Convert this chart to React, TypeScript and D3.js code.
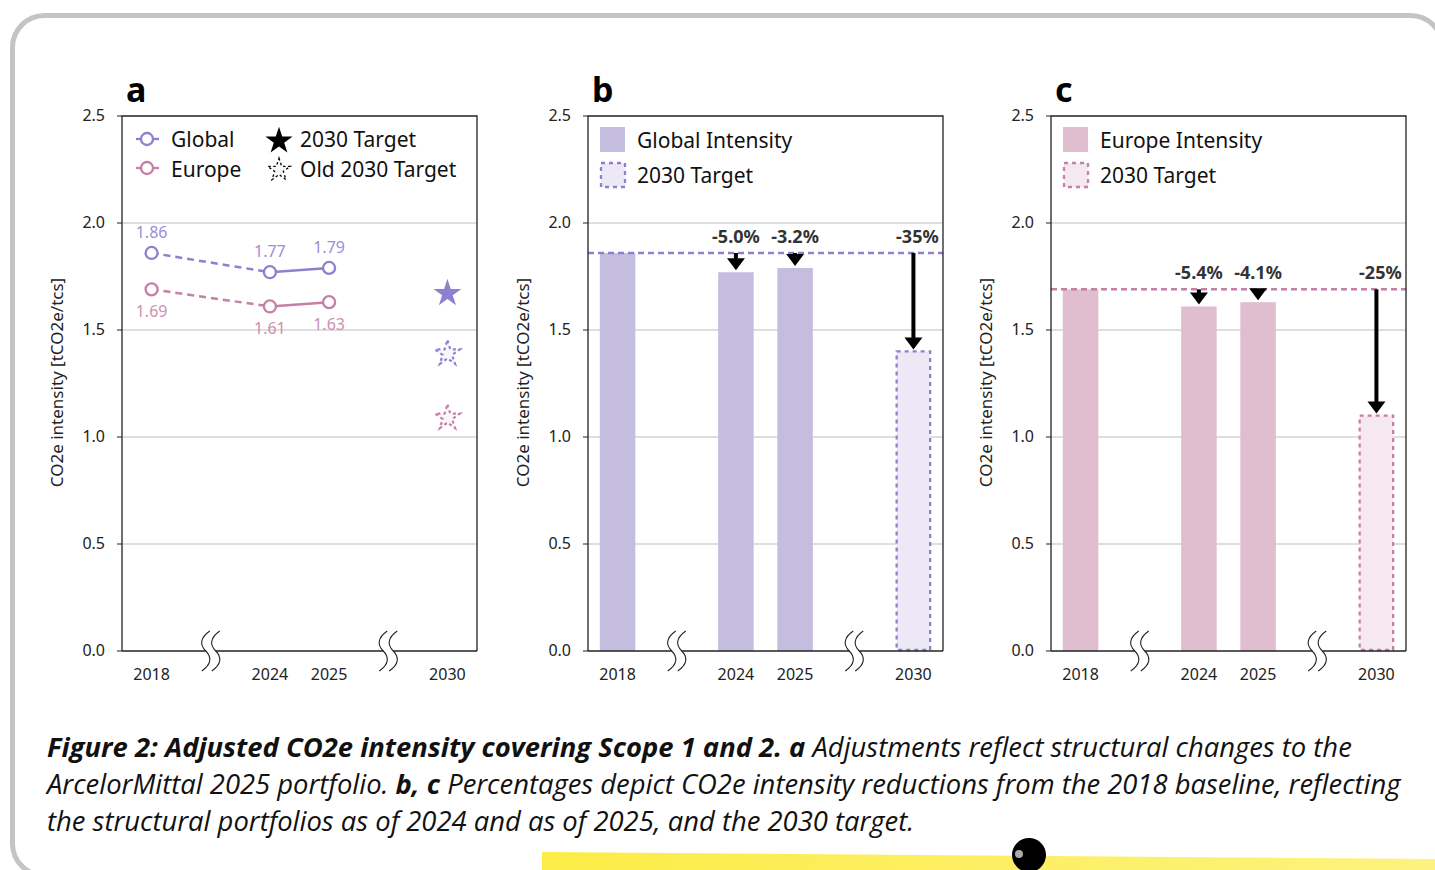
import * as d3 from 'd3';

// data
const slots = ['2018', 'gap1', '2024', '2025', 'gap2', '2030'];
const years = ['2018', '2024', '2025'];
const yTicks = [0, 0.5, 1.0, 1.5, 2.0, 2.5];
const globalValues = [1.86, 1.77, 1.79];
const europeValues = [1.69, 1.61, 1.63];
const globalTarget = 1.68;
const globalOldTarget = 1.40;
const europeOldTarget = 1.10;
const globalBarTarget = 1.40;
const europeBarTarget = 1.10;
const globalChanges = ['-5.0%', '-3.2%', '-35%'];
const europeChanges = ['-5.4%', '-4.1%', '-25%'];

const FONT = "'Noto Sans', sans-serif";
const PURPLE = '#8f7fcf';
const PURPLE_TXT = '#9a8fd6';
const PINK = '#c67fa6';
const PINK_TXT = '#cf8fb0';
const PURPLE_BAR = '#c5bde0';
const PINK_BAR = '#e0bdcf';

const top = 116;
const bottom = 651;
const pw = 355;
const y = d3.scaleLinear().domain([0, 2.5]).range([bottom, top]);

const mkX = (x0: number) =>
  d3.scaleBand<string>().domain(slots).range([x0, x0 + pw]).padding(0);

const starPath = (size: number) => d3.symbol().type(d3.symbolStar).size(size)() as string;

function BreakMark({ cx }: { cx: number }) {
  const curve = (c: number) =>
    `M${c + 4},631 C${c - 6},638 ${c - 6},645 ${c},651 C${c + 6},657 ${c + 6},664 ${c - 4},671`;
  return (
    <g>
      <rect x={cx - 5} y={646} width={10} height={10} fill="#fff" />
      <path d={curve(cx - 5)} fill="none" stroke="#222" strokeWidth={1.1} />
      <path d={curve(cx + 5)} fill="none" stroke="#222" strokeWidth={1.1} />
    </g>
  );
}

function Frame({ x0, letter }: { x0: number; letter: string }) {
  const x = mkX(x0);
  return (
    <g fontFamily={FONT}>
      <text x={x0 + 4} y={102} fontSize={34} fontWeight={700} fill="#000">{letter}</text>
      {yTicks.filter(t => t > 0 && t < 2.5).map(t => (
        <line key={t} x1={x0} x2={x0 + pw} y1={y(t)} y2={y(t)} stroke="#bdbdbd" strokeWidth={1} />
      ))}
      {yTicks.map(t => (
        <g key={'t' + t}>
          <line x1={x0 - 5} x2={x0} y1={y(t)} y2={y(t)} stroke="#222" />
          <text x={x0 - 17} y={y(t) + 5} textAnchor="end" fontSize={16} fill="#222">{t.toFixed(1)}</text>
        </g>
      ))}
      <text transform={`translate(${x0 - 59},${(top + bottom) / 2 - 1}) rotate(-90)`} textAnchor="middle" fontSize={17} fill="#222">
        CO2e intensity [tCO2e/tcs]
      </text>
      {['2018', '2024', '2025', '2030'].map(s => (
        <text key={s} x={x(s)! + x.bandwidth() / 2} y={680} textAnchor="middle" fontSize={16} fill="#222">{s}</text>
      ))}
    </g>
  );
}

function Border({ x0 }: { x0: number }) {
  const x = mkX(x0);
  return (
    <g>
      <path d={`M${x0},${bottom} V${top} H${x0 + pw} V${bottom}`} fill="none" stroke="#222" strokeWidth={1.3} />
      <line x1={x0} x2={x0 + pw} y1={bottom} y2={bottom} stroke="#222" strokeWidth={1.3} />
      <BreakMark cx={x('gap1')! + x.bandwidth() / 2} />
      <BreakMark cx={x('gap2')! + x.bandwidth() / 2} />
    </g>
  );
}

function PanelA({ x0 }: { x0: number }) {
  const x = mkX(x0);
  const cx = (s: string) => x(s)! + x.bandwidth() / 2;
  const series = [
    { vals: globalValues, color: PURPLE, txt: PURPLE_TXT, above: true },
    { vals: europeValues, color: PINK, txt: PINK_TXT, above: false },
  ];
  return (
    <g fontFamily={FONT}>
      <Frame x0={x0} letter="a" />
      {series.map((s, si) => (
        <g key={si}>
          <line x1={cx(years[0])} y1={y(s.vals[0])} x2={cx(years[1])} y2={y(s.vals[1])}
            stroke={s.color} strokeWidth={2.5} strokeDasharray="7,5" />
          <line x1={cx(years[1])} y1={y(s.vals[1])} x2={cx(years[2])} y2={y(s.vals[2])}
            stroke={s.color} strokeWidth={2.5} />
          {s.vals.map((v, i) => (
            <g key={i}>
              <circle cx={cx(years[i])} cy={y(v)} r={6} fill="#fff" stroke={s.color} strokeWidth={2.3} />
              <text x={cx(years[i])} y={s.above ? y(v) - 15 : y(v) + 28} textAnchor="middle" fontSize={16} fill={s.txt}>
                {v.toFixed(2)}
              </text>
            </g>
          ))}
        </g>
      ))}
      <path d={starPath(240)} transform={`translate(${cx('2030')},${y(globalTarget) + 2})`} fill={PURPLE} />
      <path d={starPath(190)} transform={`translate(${cx('2030')},${y(globalOldTarget) + 2})`}
        fill="#f7f6fc" stroke={PURPLE} strokeWidth={2.2} strokeDasharray="3,3" />
      <path d={starPath(190)} transform={`translate(${cx('2030')},${y(europeOldTarget) + 2})`}
        fill="#fcf6f9" stroke={PINK} strokeWidth={2.2} strokeDasharray="3,3" />
      {/* legend */}
      <g fontSize={21} fill="#111">
        <line x1={x0 + 14} x2={x0 + 37} y1={139} y2={139} stroke={PURPLE} strokeWidth={2.3} />
        <circle cx={x0 + 25} cy={139} r={6} fill="#fff" stroke={PURPLE} strokeWidth={2.3} />
        <text x={x0 + 49} y={147}>Global</text>
        <line x1={x0 + 14} x2={x0 + 37} y1={168} y2={168} stroke={PINK} strokeWidth={2.3} />
        <circle cx={x0 + 25} cy={168} r={6} fill="#fff" stroke={PINK} strokeWidth={2.3} />
        <text x={x0 + 49} y={177}>Europe</text>
        <path d={starPath(230)} transform={`translate(${x0 + 157},${141})`} fill="#000" />
        <text x={x0 + 178} y={147}>2030 Target</text>
        <path d={starPath(160)} transform={`translate(${x0 + 157},${170})`} fill="#f6f6f6" stroke="#000" strokeWidth={1.3} strokeDasharray="2.5,2.5" />
        <text x={x0 + 178} y={177}>Old 2030 Target</text>
      </g>
      <Border x0={x0} />
    </g>
  );
}

function PanelBars({ x0, letter, vals, target, changes, bar, line, targetFill, legend }: {
  x0: number; letter: string; vals: number[]; target: number; changes: string[];
  bar: string; line: string; targetFill: string; legend: string;
}) {
  const x = mkX(x0);
  const bw = x.bandwidth() * 0.6;
  const cx = (s: string) => x(s)! + x.bandwidth() / 2;
  const base = vals[0];
  const arrowTargets = [vals[1], vals[2], target];
  const arrowSlots = ['2024', '2025', '2030'];
  return (
    <g fontFamily={FONT}>
      <Frame x0={x0} letter={letter} />
      {vals.map((v, i) => (
        <rect key={i} x={cx(years[i]) - bw / 2} y={y(v)} width={bw} height={y(0) - y(v)} fill={bar} />
      ))}
      <rect x={cx('2030') - bw / 2 + 1} y={y(target)} width={bw - 2} height={y(0) - y(target) - 1}
        fill={targetFill} stroke={line} strokeWidth={2.3} strokeDasharray="4,4" />
      <line x1={x0} x2={x0 + pw} y1={y(base)} y2={y(base)} stroke={line} strokeWidth={2.5} strokeDasharray="6,4" />
      {arrowSlots.map((s, i) => {
        const tip = y(arrowTargets[i]) - 2;
        return (
          <g key={s}>
            <line x1={cx(s)} x2={cx(s)} y1={y(base)} y2={tip - 11} stroke="#000" strokeWidth={4} />
            <path d={`M${cx(s) - 9},${tip - 12} L${cx(s) + 9},${tip - 12} L${cx(s)},${tip} Z`} fill="#000" />
            <text x={cx(s) + (i === 2 ? 4 : 0)} y={y(base) - 10} textAnchor="middle" fontSize={18} fontWeight={700} fill="#333">
              {changes[i]}
            </text>
          </g>
        );
      })}
      <g fontSize={21} fill="#111">
        <rect x={x0 + 12} y={127} width={25} height={25} fill={bar} />
        <text x={x0 + 49} y={148}>{legend}</text>
        <rect x={x0 + 13} y={163} width={24} height={24} fill={targetFill} stroke={line} strokeWidth={2.3} strokeDasharray="4,4" />
        <text x={x0 + 49} y={183}>2030 Target</text>
      </g>
      <Border x0={x0} />
    </g>
  );
}

export default function App() {
  const bold = { fontWeight: 700 } as const;
  return (
    <svg width={1435} height={870} style={{ position: 'absolute', left: 0, top: 0, background: '#fff' }}>
      <defs>
        <linearGradient id="yel" x1="0" x2="1" y1="0" y2="0">
          <stop offset="0" stopColor="#fcec47" />
          <stop offset="1" stopColor="#fdf27f" />
        </linearGradient>
      </defs>
      <rect x={12.5} y={15.5} width={1430} height={860} rx={32} fill="#fff" stroke="#c4c4c4" strokeWidth={5} />
      <PanelA x0={122} />
      <PanelBars x0={588} letter="b" vals={globalValues} target={globalBarTarget} changes={globalChanges}
        bar={PURPLE_BAR} line={PURPLE} targetFill="#ece8f6" legend="Global Intensity" />
      <PanelBars x0={1051} letter="c" vals={europeValues} target={europeBarTarget} changes={europeChanges}
        bar={PINK_BAR} line={PINK} targetFill="#f6e8ef" legend="Europe Intensity" />
      <g fontFamily="'Open Sans', sans-serif" fontStyle="italic" fontSize={27.4} fill="#111">
        <text x={47} y={757}>
          <tspan {...bold}>Figure 2: Adjusted CO2e intensity covering Scope 1 and 2. a</tspan> Adjustments reflect structural changes to the
        </text>
        <text x={47} y={794}>
          ArcelorMittal 2025 portfolio. <tspan {...bold}>b, c</tspan> Percentages depict CO2e intensity reductions from the 2018 baseline, reflecting
        </text>
        <text x={47} y={831}>the structural portfolios as of 2024 and as of 2025, and the 2030 target.</text>
      </g>
      <path d="M542,852 L1435,859 L1435,870 L542,870 Z" fill="url(#yel)" />
      <circle cx={1029} cy={855} r={17} fill="#000" />
      <circle cx={1019} cy={854} r={4} fill="#aaa" />
    </svg>
  );
}
